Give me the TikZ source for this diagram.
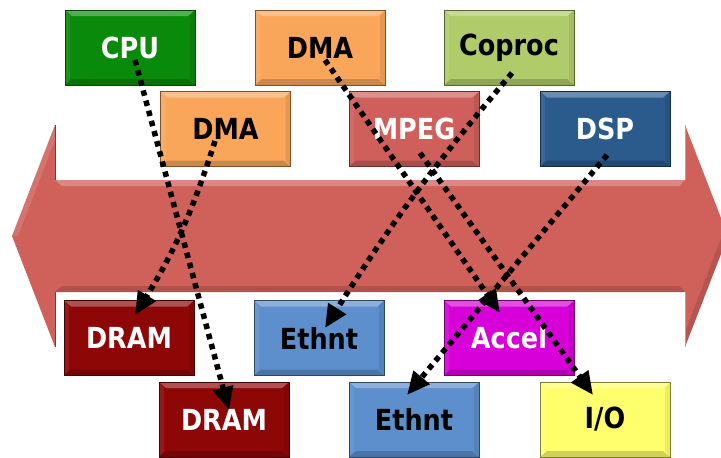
\documentclass[tikz,border=0pt]{standalone}
\usepackage{fontspec}
\newfontfamily\lblfont{DejaVu Sans}[FakeStretch=0.88]
\usetikzlibrary{arrows.meta}

\definecolor{cpuC}{HTML}{0A8A0A}
\definecolor{dmaC}{HTML}{F9A65A}
\definecolor{copC}{HTML}{AFCB6A}
\definecolor{mpgC}{HTML}{CF5F5A}
\definecolor{dspC}{HTML}{2B5A8D}
\definecolor{dramC}{HTML}{8E0707}
\definecolor{ethC}{HTML}{5C8FCB}
\definecolor{accC}{HTML}{D800D8}
\definecolor{ioC}{HTML}{FFFF6E}
\definecolor{busC}{HTML}{D0605A}

\tikzset{
  blk/.style 2 args={
    draw=#1!50!black, line width=0.8pt, fill=#1, text=#2,
    minimum width=130pt, minimum height=75pt, inner sep=0pt,
    font={\lblfont\bfseries\fontsize{29pt}{32pt}\selectfont},
    path picture={
      \coordinate (bnw) at (path picture bounding box.north west);
      \coordinate (bne) at (path picture bounding box.north east);
      \coordinate (bsw) at (path picture bounding box.south west);
      \coordinate (bse) at (path picture bounding box.south east);
      % bevelled edges: light on top, dark on bottom, faint on the sides
      \fill[white,opacity=.30] (bnw) -- (bne) -- ([shift={(-7pt,-6pt)}]bne) -- ([shift={(7pt,-6pt)}]bnw) -- cycle;
      \fill[white,opacity=.08] (bnw) -- (bsw) -- ([shift={(5pt,6pt)}]bsw) -- ([shift={(5pt,-6pt)}]bnw) -- cycle;
      \fill[black,opacity=.18] (bsw) -- (bse) -- ([shift={(-7pt,6pt)}]bse) -- ([shift={(7pt,6pt)}]bsw) -- cycle;
      \fill[black,opacity=.08] (bne) -- (bse) -- ([shift={(-5pt,6pt)}]bse) -- ([shift={(-5pt,-6pt)}]bne) -- cycle;
    }
  },
  link/.style={
    draw=black, line width=5.5pt, dash pattern=on 5.5pt off 5pt,
    -{Triangle[length=23pt,width=20pt]}
  }
}

\begin{document}
\begin{tikzpicture}[x=1pt,y=-1pt]
\useasboundingbox (0,0) rectangle (721,458);

% shared bus: a wide double-headed arrow
\fill[busC] (55,180) -- (55,125) -- (12,236) -- (55,347) -- (55,292)
  -- (685,292) -- (685,347) -- (728,236) -- (685,125) -- (685,180) -- cycle;
\fill[white,opacity=.25] (55,180) -- (685,180) -- (679,186) -- (62,186) -- cycle;
\fill[black,opacity=.15] (55,292) -- (685,292) -- (679,286) -- (62,286) -- cycle;
\fill[white,opacity=.12] (55,125) -- (12,236) -- (18,236) -- (55,140) -- cycle;
\fill[black,opacity=.12] (685,347) -- (728,236) -- (722,236) -- (685,332) -- cycle;
\draw[black!70,line width=1pt] (55,125) -- (55,180);
\draw[black!70,line width=1pt] (55,292) -- (55,347);
\draw[black!35,line width=1pt] (685,125) -- (685,180);
\draw[black!35,line width=1pt] (685,292) -- (685,347);

% masters
\node[blk={cpuC}{white}]  (cpu)    at (130,47.5) {CPU};
\node[blk={dmaC}{black}]  (dmaA)   at (320,47.5) {DMA};
\node[blk={copC}{black}]  (coproc) at (509,47.5) {Coproc};
\node[blk={dmaC}{black}]  (dmaB)   at (225.5,129) {DMA};
\node[blk={mpgC}{white}]  (mpeg)   at (414,129) {MPEG};
\node[blk={dspC}{white}]  (dsp)    at (605,129) {DSP};

% slaves
\node[blk={dramC}{white}] (dramA)  at (129,338) {DRAM};
\node[blk={ethC}{black}]  (ethA)   at (319,338) {Ethnt};
\node[blk={accC}{white}]  (accel)  at (509,338) {Accel};
\node[blk={dramC}{white}] (dramB)  at (224,419.5) {DRAM};
\node[blk={ethC}{black}]  (ethB)   at (414,419.5) {Ethnt};
\node[blk={ioC}{black}]   (io)     at (605,419.5) {I/O};

% transactions across the bus
\draw[link] ([shift={(5pt,-12.5pt)}]cpu.center) -- ([shift={(5pt,9.5pt)}]dramB.center);
\draw[link] ([shift={(-10.5pt,-12pt)}]dmaB.center) to[bend left=7] ([shift={(6pt,23pt)}]dramA.center);
\draw[link] ([shift={(5pt,-12.5pt)}]dmaA.center) -- ([shift={(-9pt,25pt)}]accel.center);
\draw[link] ([shift={(3pt,-25.5pt)}]coproc.center) to[bend right=4] ([shift={(6pt,10pt)}]ethA.center);
\draw[link] ([shift={(6pt,-24pt)}]mpeg.center) -- ([shift={(-12pt,24.5pt)}]io.center);
\draw[link] ([shift={(2pt,-26pt)}]dsp.center) -- ([shift={(-7pt,24.5pt)}]ethB.center);
\end{tikzpicture}
\end{document}
